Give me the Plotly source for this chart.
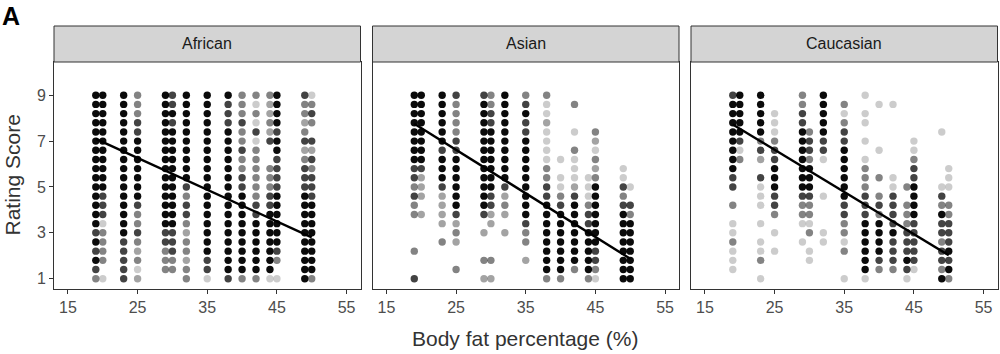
import plotly.graph_objects as go

# ---------------- data ----------------
groups = ["African", "Asian", "Caucasian"]
body_fat = [19, 20, 23, 25, 29, 30, 32, 35, 38, 40, 42, 44, 45, 49, 50]
rating_levels = [9.0, 8.6, 8.2, 7.8, 7.4, 7.0, 6.6, 6.2, 5.8, 5.4, 5.0,
                 4.6, 4.2, 3.8, 3.4, 3.0, 2.6, 2.2, 1.8, 1.4, 1.0]
# density level (0-5) per body-fat column, from rating 9 down to rating 1
density_level_counts = [0, 1, 2, 3, 6, 14]  # approx. number of overlapping ratings per level

african_density = [
    "555555555555555454543",
    "555555555554441333301",
    "555555555555555544444",
    "333445555555433432312",
    "555555555555555443330",
    "445455555555555444330",
    "555555555543443233233",
    "555555555555555555441",
    "544455555555555555554",
    "333433433445555555553",
    "313141333333445555553",
    "322324003334455555551",
    "555545544445555554301",
    "433234234445555555555",
    "134304243444555555553",
]
asian_density = [
    "555555554434330003004",
    "555555554222020000000",
    "555555455542222030000",
    "433334455555542320030",
    "455555555555540200302",
    "334455555554422000302",
    "555555555542320200000",
    "345445555555554330200",
    "311211113344555555553",
    "000000010113455555553",
    "030010311124555555530",
    "000000000111344555553",
    "000032132355555554431",
    "000000001143455555555",
    "000000000010435555555",
]
caucasian_density = [
    "455555555440301131110",
    "555554130000000000000",
    "555553420411101011301",
    "001113445554430101000",
    "334455555554331010000",
    "000034435554331301100",
    "555554410001000110000",
    "031344555555443313001",
    "101101013334445555551",
    "010000100303435555430",
    "010000000114444544430",
    "000000000030333444541",
    "000001134455554444410",
    "000010000014354434435",
    "000000001110334445453",
]
density_by_group = [african_density, asian_density, caucasian_density]

# linear fit (intercept, slope) per group
fit_intercept = [9.735, 11.37, 11.22]
fit_slope = [-0.1387, -0.190, -0.184]

x_ticks = [15, 25, 35, 45, 55]
y_ticks = [1, 3, 5, 7, 9]

# ---------------- layout constants ----------------
W, H = 1000, 354
panel_px = [(54, 360.5), (372.5, 679), (691, 997.5)]
panel_top, panel_bottom = 62, 289
strip_top = 26
point_alpha = 0.2
FONT = "Arial, Liberation Sans, Helvetica, sans-serif"

fig = go.Figure()

for gi, g in enumerate(groups):
    xs, ys, ops = [], [], []
    for ci, bf in enumerate(body_fat):
        col = density_by_group[gi][ci]
        for ri, ch in enumerate(col):
            n = density_level_counts[int(ch)]
            if n == 0:
                continue
            xs.append(bf)
            ys.append(rating_levels[ri])
            ops.append(1 - (1 - point_alpha) ** n)
    sfx = "" if gi == 0 else str(gi + 1)
    fig.add_trace(go.Scatter(
        x=xs, y=ys, mode="markers",
        marker=dict(color="black", size=7.4, opacity=ops, line=dict(width=0)),
        xaxis="x" + sfx, yaxis="y" + sfx, showlegend=False, hoverinfo="skip"))
    xmin, xmax = min(body_fat), max(body_fat)
    fig.add_trace(go.Scatter(
        x=[xmin, xmax],
        y=[fit_intercept[gi] + fit_slope[gi] * xmin, fit_intercept[gi] + fit_slope[gi] * xmax],
        mode="lines", line=dict(color="black", width=2.4),
        xaxis="x" + sfx, yaxis="y" + sfx, showlegend=False, hoverinfo="skip"))

layout = dict(
    width=W, height=H, margin=dict(l=0, r=0, t=0, b=0),
    paper_bgcolor="white", plot_bgcolor="white",
    font=dict(family=FONT, color="#4d4d4d"),
    shapes=[], annotations=[],
)
y0 = 1 - panel_bottom / H
y1 = 1 - panel_top / H
for gi, g in enumerate(groups):
    sfx = "" if gi == 0 else str(gi + 1)
    left, right = panel_px[gi]
    layout["xaxis" + sfx] = dict(
        domain=[left / W, right / W], range=[13, 57],
        tickvals=x_ticks, ticks="outside", ticklen=4, tickcolor="#333333",
        tickfont=dict(size=16, color="#4d4d4d", family=FONT),
        showline=True, linecolor="#333333", linewidth=1, mirror=True,
        showgrid=False, zeroline=False, anchor="y" + sfx, fixedrange=True)
    layout["yaxis" + sfx] = dict(
        domain=[y0, y1], range=[0.55, 10.45],
        tickvals=y_ticks, ticks="outside" if gi == 0 else "", ticklen=4, tickcolor="#333333",
        showticklabels=(gi == 0),
        tickfont=dict(size=16, color="#4d4d4d", family=FONT),
        showline=True, linecolor="#333333", linewidth=1, mirror=True,
        showgrid=False, zeroline=False, anchor="x" + sfx, fixedrange=True)
    layout["shapes"].append(dict(
        type="rect", xref="paper", yref="paper",
        x0=left / W, x1=right / W, y0=1 - panel_top / H, y1=1 - strip_top / H,
        fillcolor="#d4d4d4", line=dict(color="#333333", width=1), layer="above"))
    layout["annotations"].append(dict(
        text=g, xref="paper", yref="paper",
        x=(left + right) / 2 / W, y=1 - (strip_top + panel_top) / 2 / H,
        xanchor="center", yanchor="middle", showarrow=False,
        font=dict(size=16, color="#1a1a1a", family=FONT)))

layout["annotations"].append(dict(
    text="<b>A</b>", xref="paper", yref="paper", x=0.0, y=1.0,
    xanchor="left", yanchor="top", showarrow=False,
    font=dict(size=25, color="black", family=FONT)))
layout["annotations"].append(dict(
    text="Rating Score", xref="paper", yref="paper", x=12 / W, y=1 - 175.5 / H,
    xanchor="center", yanchor="middle", textangle=-90, showarrow=False,
    font=dict(size=21, color="#333333", family=FONT)))
layout["annotations"].append(dict(
    text="Body fat percentage (%)", xref="paper", yref="paper",
    x=525 / W, y=1 - 338 / H, xanchor="center", yanchor="middle", showarrow=False,
    font=dict(size=21, color="#333333", family=FONT)))

fig.update_layout(**layout)
fig.write_html("out.html")
